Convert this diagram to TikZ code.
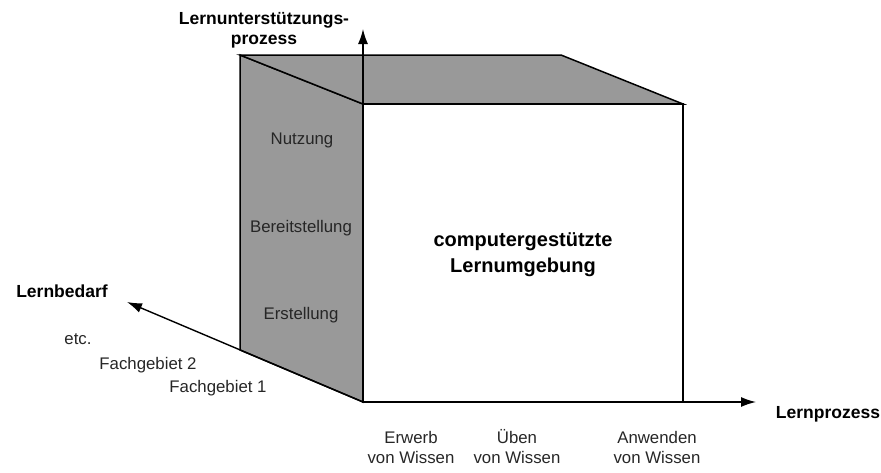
\documentclass[tikz,border=0pt]{standalone}
\usepackage{fontspec}
\setmainfont{Liberation Sans}
\usetikzlibrary{arrows.meta}
\definecolor{facegray}{RGB}{153,153,153}
\tikzset{
  face/.style={draw=black, line width=1.5pt, line join=miter},
  axis/.style={line width=1.4pt, -{Latex[length=15pt,width=10pt]}},
  lbl/.style={font=\fontsize{16.8}{20}\selectfont, text=black!85, inner sep=0pt, align=center},
  blbl/.style={font=\fontsize{17.5}{20}\selectfont\bfseries, inner sep=0pt, align=center},
  clbl/.style={font=\fontsize{20}{26}\selectfont\bfseries, inner sep=0pt, align=center}
}
\begin{document}
\begin{tikzpicture}[x=1pt,y=-1pt]
\useasboundingbox (0,0) rectangle (881,472);
% cube corners
\coordinate (bl) at (240,55);
\coordinate (br) at (561,55);
\coordinate (ftl) at (363,104);
\coordinate (ftr) at (683,104);
\coordinate (fbl) at (363,402);
\coordinate (fbr) at (683,402);
\coordinate (lbb) at (240,350);
% axis ends
\coordinate (up) at (363,29);
\coordinate (left) at (127,302);
\coordinate (right) at (756,402);
% faces
\draw[face, fill=facegray] (bl) -- (ftl) -- (fbl) -- (lbb) -- cycle;
\draw[face, fill=facegray] (bl) -- (br) -- (ftr) -- (ftl) -- cycle;
\draw[face, fill=white] (ftl) -- (ftr) -- (fbr) -- (fbl) -- cycle;
% axes
\draw[axis] (ftl) -- (up);
\draw[axis] (fbl) -- (left);
\draw[axis] (fbl) -- (right);
% labels
\node[blbl] (lup) at (264,30) {Lernunterstützungs-\\prozess};
\node[blbl] (llb) at (62,291) {Lernbedarf};
\node[blbl] (llp) at (828,414) {Lernprozess};
\node[clbl] (center) at (523,255) {computergestützte\\Lernumgebung};
\node[lbl] (nutz) at (302,140) {Nutzung};
\node[lbl] (bereit) at (301,228) {Bereitstellung};
\node[lbl] (erst) at (301,315) {Erstellung};
\node[lbl] (etc) at (78,339) {etc.};
\node[lbl] (fg2) at (148,365) {Fachgebiet 2};
\node[lbl] (fg1) at (218,388) {Fachgebiet 1};
\node[lbl] (erw) at (411,447) {Erwerb\\von Wissen};
\node[lbl] (ueb) at (517,447) {Üben\\von Wissen};
\node[lbl] (anw) at (657,447) {Anwenden\\von Wissen};
\end{tikzpicture}
\end{document}
